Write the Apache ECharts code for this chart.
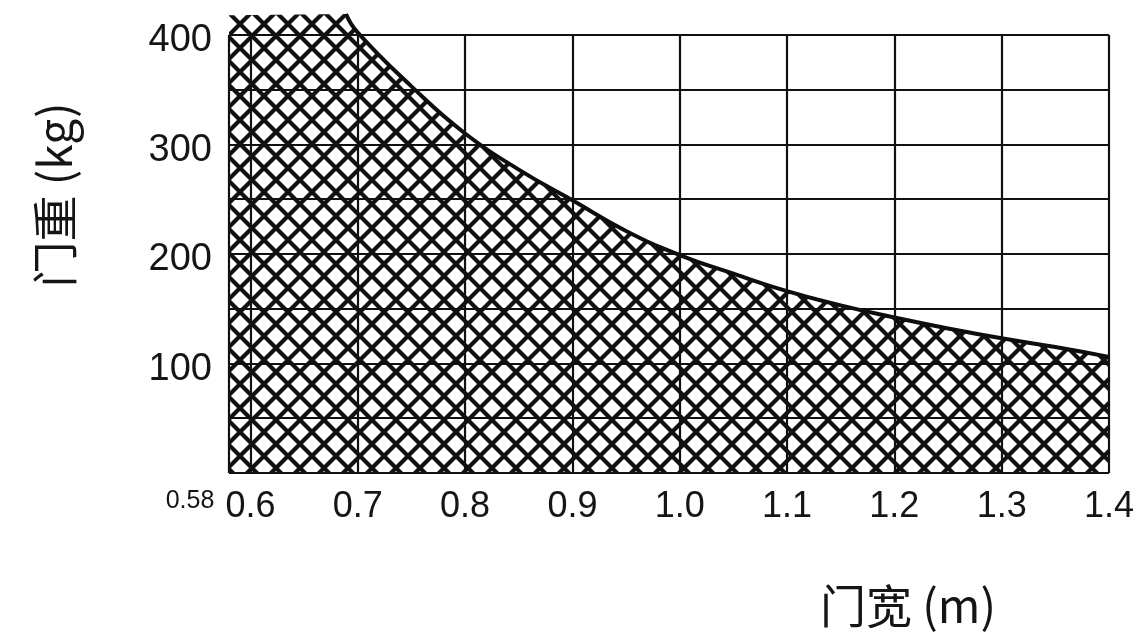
<!DOCTYPE html>
<html><head><meta charset="utf-8">
<script src="https://cdn.jsdelivr.net/npm/echarts@6/dist/echarts.min.js"></script>
<style>html,body{margin:0;padding:0;background:#fff}#c{width:1137px;height:638px}</style>
</head><body><div id="c"></div>
<script>
// door width (m) vs max door weight (kg)
const curveWidths  = [0.689, 0.70, 0.75, 0.80, 0.85, 0.90, 0.95, 1.00, 1.05, 1.10, 1.15, 1.20, 1.25, 1.30, 1.35, 1.40];
const curveWeights = [419,   402,  353,  310,  277,  249,  221,  199,  182,  166,  153,  142,  132,  123,  115,  106];
// hatched region starts flat at the left edge
const hatchStartWidth = 0.58;
const hatchTopWeight = 418;
// grid lines and tick labels
const xGridVals = [0.58, 0.6, 0.7, 0.8, 0.9, 1.0, 1.1, 1.2, 1.3, 1.4];
const yGridVals = [0, 50, 100, 150, 200, 250, 300, 350, 400];
const yLabelVals = [100, 200, 300, 400];
const xLabelVals = [0.6, 0.7, 0.8, 0.9, 1.0, 1.1, 1.2, 1.3, 1.4];
const xTitle = '门宽 (m)';
const yTitle = '门重 (kg)';

function makeHatch() {
  const s = 24;
  const c = document.createElement('canvas');
  c.width = s; c.height = s;
  const g = c.getContext('2d');
  g.fillStyle = '#fff'; g.fillRect(0, 0, s, s);
  g.strokeStyle = '#111'; g.lineWidth = 4.2;
  g.beginPath();
  for (let k = -1; k <= 1; k++) {
    g.moveTo(k * s - s, -s); g.lineTo(k * s + 2 * s, 2 * s);
    g.moveTo(k * s + 2 * s, -s); g.lineTo(k * s - s, 2 * s);
  }
  g.stroke();
  return c;
}

const curveData = curveWidths.map((w, i) => [w, curveWeights[i]]);
const areaData = [[hatchStartWidth, hatchTopWeight]].concat(curveData);
const xMin = xGridVals[0], xMax = xGridVals[xGridVals.length - 1];
const yTop = yGridVals[yGridVals.length - 1];
const vLines = xGridVals.map(v => [{coord: [v, 0]}, {coord: [v, yTop]}]);
const hLines = yGridVals.map(v => [{coord: [xMin, v]}, {coord: [xMax, v]}]);

const chart = echarts.init(document.getElementById('c'), null, {renderer: 'canvas'});
chart.setOption({
  animation: false,
  backgroundColor: '#fff',
  grid: {left: 229, right: 22, top: 13, bottom: 165},
  xAxis: {
    type: 'value', min: xMin, max: xMax, interval: 0.02,
    axisLine: {show: false}, axisTick: {show: false}, splitLine: {show: false},
    axisLabel: {
      margin: 16, fontSize: 36, fontFamily: 'Liberation Sans', color: '#151515',
      formatter: function (v) {
        const r = Math.round(v * 100);
        if (r === Math.round(xMin * 100)) return '{s|' + xMin.toFixed(2) + '}';
        for (const lv of xLabelVals) if (Math.round(lv * 100) === r) return lv.toFixed(1);
        return '';
      },
      rich: {s: {fontSize: 25, fontFamily: 'Liberation Sans', color: '#151515', padding: [0, 78, 0, 0]}}
    }
  },
  yAxis: {
    type: 'value', min: 0, max: 420, interval: 100,
    axisLine: {show: false}, axisTick: {show: false}, splitLine: {show: false},
    axisLabel: {
      margin: 17, fontSize: 38, fontFamily: 'Liberation Sans', color: '#151515',
      formatter: v => (yLabelVals.indexOf(v) >= 0 ? '{a|' + v + '}' : ''),
      rich: {a: {fontSize: 38, fontFamily: 'Liberation Sans', color: '#151515', padding: [12, 0, 0, 0]}}
    }
  },
  series: [
    {
      type: 'line', data: areaData, symbol: 'none', smooth: false,
      lineStyle: {width: 0, opacity: 0},
      areaStyle: {color: {image: makeHatch(), repeat: 'repeat'}, opacity: 1},
      silent: true, z: 1,
      markLine: {
        silent: true, symbol: ['none', 'none'], label: {show: false},
        lineStyle: {color: '#111', width: 2.2, type: 'solid', opacity: 1},
        emphasis: {disabled: true},
        data: vLines.concat(hLines)
      }
    },
    {
      type: 'line', data: curveData, symbol: 'none', smooth: 0.5,
      lineStyle: {color: '#0d0d0d', width: 4}, silent: true, z: 3
    }
  ],
  graphic: [
    {type: 'text', x: 55, y: 195, rotation: Math.PI / 2,
     style: {text: yTitle, fontSize: 46, fontFamily: 'Noto Sans CJK SC', fill: '#151515', textAlign: 'center', textVerticalAlign: 'middle'}},
    {type: 'text', x: 908, y: 606,
     style: {text: xTitle, fontSize: 46, fontFamily: 'Noto Sans CJK SC', fill: '#151515', textAlign: 'center', textVerticalAlign: 'middle'}}
  ]
});
</script></body></html>
